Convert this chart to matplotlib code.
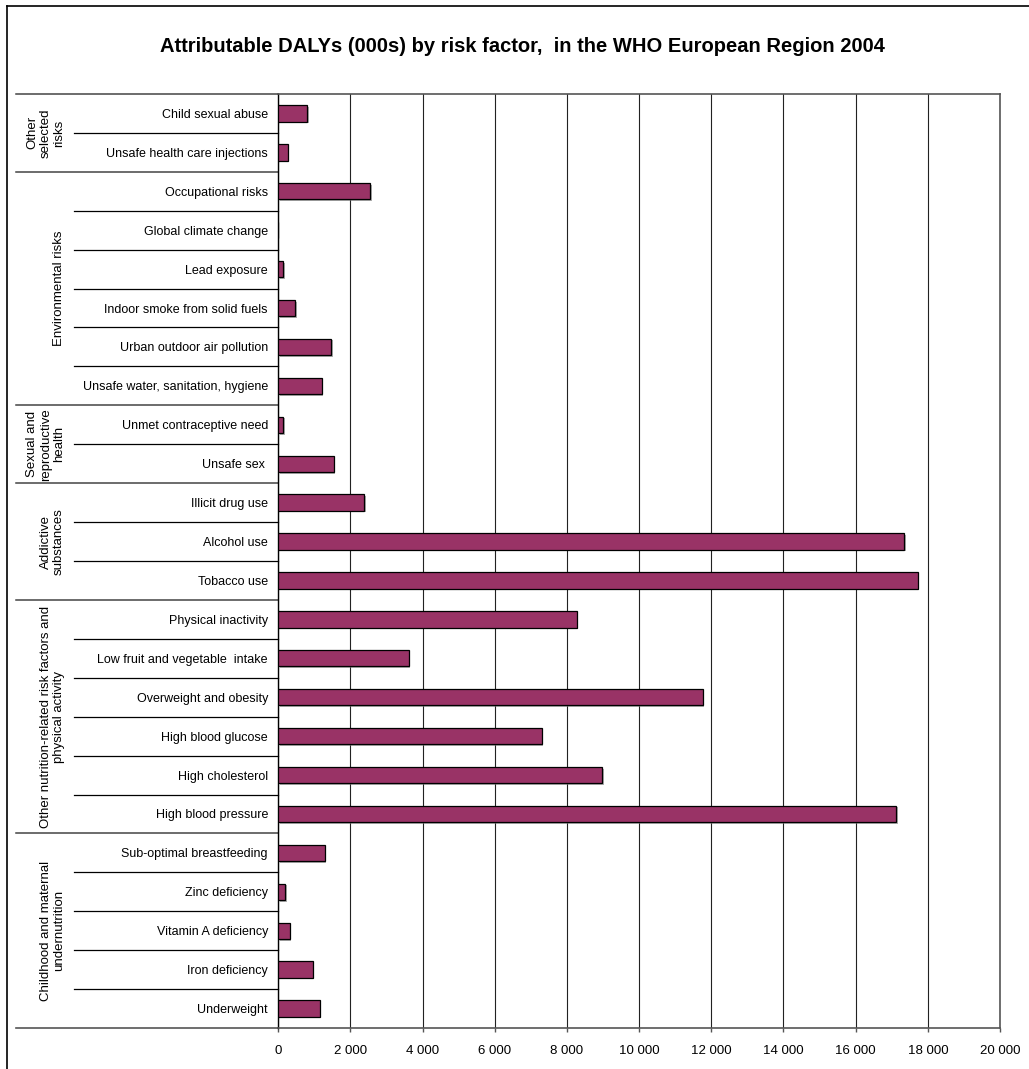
"""
Attributable DALYs (000s) by risk factor in the WHO European Region, 2004.
Horizontal bar chart with a grouped (two-level) category axis.
"""
import matplotlib
matplotlib.use('Agg')
import matplotlib.pyplot as plt
import matplotlib.patheffects as pe
from matplotlib import transforms
from matplotlib.lines import Line2D

plt.rcParams['font.family'] = ['Liberation Sans', 'DejaVu Sans']

# Risk factors, top to bottom, with their DALYs in thousands
risk_factors = [
    'Child sexual abuse', 'Unsafe health care injections',
    'Occupational risks', 'Global climate change', 'Lead exposure',
    'Indoor smoke from solid fuels', 'Urban outdoor air pollution',
    'Unsafe water, sanitation, hygiene',
    'Unmet contraceptive need', 'Unsafe sex ',
    'Illicit drug use', 'Alcohol use', 'Tobacco use',
    'Physical inactivity', 'Low fruit and vegetable  intake',
    'Overweight and obesity', 'High blood glucose', 'High cholesterol',
    'High blood pressure',
    'Sub-optimal breastfeeding', 'Zinc deficiency', 'Vitamin A deficiency',
    'Iron deficiency', 'Underweight',
]
dalys = [
    795, 260,
    2550, 0, 130, 470, 1460, 1200,
    130, 1535,
    2380, 17340, 17720,
    8270, 3610, 11760, 7300, 8980, 17130,
    1285, 185, 315, 955, 1145,
]

# Risk groups and how many factors each one holds (same order)
groups = [
    'Other\nselected\nrisks',
    'Environmental risks',
    'Sexual and\nreproductive\nhealth',
    'Addictive\nsubstances',
    'Other nutrition-related risk factors and\nphysical activity',
    'Childhood and maternal\nundernutrition',
]
group_sizes = [2, 6, 2, 3, 6, 5]

x_ticks = list(range(0, 20001, 2000))

W, H = 1029, 1069
fig = plt.figure(figsize=(W / 100, H / 100), dpi=100)
ax_left, ax_right, ax_top, ax_bottom = 278.3, 1000, 94, 1028
ax = fig.add_axes([ax_left / W, (H - ax_bottom) / H,
                   (ax_right - ax_left) / W, (ax_bottom - ax_top) / H])

n = len(risk_factors)
ypos = list(range(n))
bars = ax.barh(ypos, dalys, height=0.42, color='#993366',
               edgecolor='black', linewidth=0.9, zorder=3)
for b in bars:
    b.set_path_effects([pe.SimplePatchShadow(offset=(1.2, -1.2),
                                             shadow_rgbFace='#777777', alpha=0.6),
                        pe.Normal()])

ax.set_xlim(0, 20000)
ax.set_ylim(n - 0.5, -0.5)
ax.set_xticks(x_ticks)
ax.set_xticklabels([f'{v:,}'.replace(',', ' ') for v in x_ticks], fontsize=9.5)
ax.set_yticks(ypos)
ax.set_yticklabels(risk_factors, fontsize=9)
ax.tick_params(axis='y', length=0, pad=7.5)
ax.tick_params(axis='x', length=3, width=1, color='#555555', pad=9)

ax.grid(axis='x', color='#222222', linewidth=0.8, zorder=0)
ax.set_axisbelow(True)
for side in ['top', 'right', 'bottom']:
    ax.spines[side].set_color('#555555')
    ax.spines[side].set_linewidth(1.2)
ax.spines['left'].set_color('black')
ax.spines['left'].set_linewidth(1.0)

# Category axis: separators between factors and between groups
blend = transforms.blended_transform_factory(fig.transFigure, ax.transData)
x_group = 16 / W
x_item = 74 / W
x_axis = ax_left / W
group_ends = []
start = 0
for size in group_sizes:
    group_ends.append((start, start + size))
    start += size

for g0, g1 in group_ends:
    for k in range(g0 + 1, g1):
        ax.add_line(Line2D([x_item, x_axis], [k - 0.5, k - 0.5], transform=blend,
                           color='black', linewidth=0.9, clip_on=False))
    ax.add_line(Line2D([x_group, x_axis], [g0 - 0.5, g0 - 0.5], transform=blend,
                       color='#444444', linewidth=1.1, clip_on=False))
ax.add_line(Line2D([x_group, x_axis], [n - 0.5, n - 0.5], transform=blend,
                   color='#555555', linewidth=1.2, clip_on=False))

# Rotated group names
for label, (g0, g1) in zip(groups, group_ends):
    ax.text(65 / W, (g0 + g1 - 1) / 2, label, transform=blend, rotation=90,
            ha='right', va='center', multialignment='center', fontsize=9.5,
            linespacing=1.15)

fig.text(522 / W, 1 - 46 / H,
         'Attributable DALYs (000s) by risk factor,  in the WHO European Region 2004',
         ha='center', va='center', fontsize=14.5, fontweight='bold')

# Chart area border
fig.add_artist(Line2D([7 / W, 7 / W], [0, 1 - 6 / H], transform=fig.transFigure,
                      color='black', linewidth=1.2))
fig.add_artist(Line2D([7 / W, 1], [1 - 6 / H, 1 - 6 / H], transform=fig.transFigure,
                      color='black', linewidth=1.2))

fig.savefig('out.png', dpi=100, facecolor='white')
